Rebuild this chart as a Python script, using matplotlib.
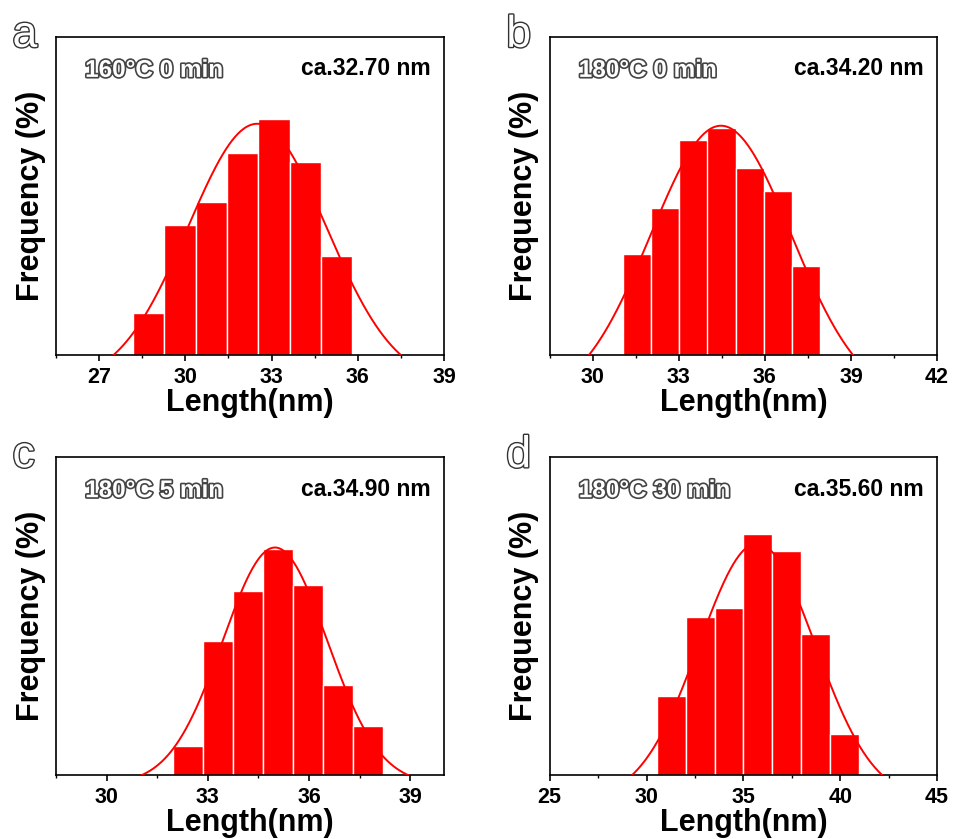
"""Length distributions (four panels) with Gaussian fits."""
import numpy as np
import matplotlib
matplotlib.use("Agg")
import matplotlib.pyplot as plt
import matplotlib.patheffects as pe

plt.rcParams["font.family"] = ["Liberation Sans", "DejaVu Sans"]

# bar centres (nm) and heights (%)
centers_a = [28.72, 29.81, 30.90, 31.99, 33.08, 34.17, 35.26]
heights_a = [4.0, 12.3, 14.5, 19.2, 22.4, 18.3, 9.4]
centers_b = [31.54, 32.52, 33.51, 34.49, 35.47, 36.46, 37.44]
heights_b = [8.9, 13.0, 19.0, 20.1, 16.5, 14.5, 7.9]
centers_c = [32.40, 33.29, 34.18, 35.07, 35.96, 36.85, 37.74]
heights_c = [3.2, 14.9, 20.4, 25.1, 21.1, 10.0, 5.4]
centers_d = [31.28, 32.77, 34.26, 35.75, 37.23, 38.72, 40.21]
heights_d = [7.5, 15.0, 15.9, 22.9, 21.3, 13.4, 3.9]
widths = [1.09, 0.983, 0.89, 1.487]

# Gaussian fit parameters: y0 + A*exp(-(x-xc)^2 / (2 w^2))
fit_xc = [32.5, 34.47, 34.99, 35.71]
fit_w = [2.4, 2.45, 1.55, 3.0]
fit_A = [24.8, 24.46, 26.32, 24.44]
fit_y0 = [-2.84, -4.20, -1.04, -2.42]

letters = ["a", "b", "c", "d"]
conditions = ["160°C 0 min", "180°C 0 min", "180°C 5 min", "180°C 30 min"]
means = ["ca.32.70 nm", "ca.34.20 nm", "ca.34.90 nm", "ca.35.60 nm"]
xlims = [(25.5, 39), (28.5, 42), (28.5, 40), (25, 45)]
xticks = [[27, 30, 33, 36, 39], [30, 33, 36, 39, 42], [30, 33, 36, 39], [25, 30, 35, 40, 45]]
minor_step = [1.5, 1.5, 1.5, 2.5]
ymax = [30.2, 28.1, 35.3, 30.2]

centers = [centers_a, centers_b, centers_c, centers_d]
heights = [heights_a, heights_b, heights_c, heights_d]

fig = plt.figure(figsize=(9.54, 8.39), dpi=100)
boxes = [[0.0587, 0.5769, 0.4067, 0.379], [0.5762, 0.5769, 0.406, 0.379],
         [0.0587, 0.0763, 0.4067, 0.3786], [0.5762, 0.0763, 0.406, 0.3786]]

for i in range(4):
    ax = fig.add_axes(boxes[i])
    ax.bar(centers[i], heights[i], width=widths[i], color="#ff0000",
           edgecolor="white", linewidth=1.0, zorder=2)
    xs = np.linspace(xlims[i][0], xlims[i][1], 400)
    ys = fit_y0[i] + fit_A[i] * np.exp(-(xs - fit_xc[i]) ** 2 / (2 * fit_w[i] ** 2))
    ax.plot(xs, ys, color="#ff0000", linewidth=1.4, zorder=3)

    ax.set_xlim(*xlims[i])
    ax.set_ylim(0, ymax[i])
    ax.set_xticks(xticks[i])
    ax.set_xticks(np.arange(xlims[i][0], xlims[i][1] + 0.01, minor_step[i]), minor=True)
    ax.set_yticks([])
    ax.tick_params(axis="x", which="major", direction="out", length=4, width=1.2,
                   pad=4.5, labelsize=15.5)
    ax.tick_params(axis="x", which="minor", direction="out", length=2.3, width=1.0)
    for lab in ax.get_xticklabels():
        lab.set_fontweight("bold")
    for sp in ax.spines.values():
        sp.set_linewidth(1.2)

    ax.set_xlabel("Length(nm)", fontsize=22, fontweight="bold")
    ax.set_ylabel("Frequency (%)", fontsize=22, fontweight="bold")
    ax.xaxis.set_label_coords(0.5, -0.104)
    ax.yaxis.set_label_coords(-0.027, 0.5)

    ax.text(0.075, 0.895, conditions[i], transform=ax.transAxes, fontsize=17.5,
            fontweight="bold", color="white", ha="left", va="center",
            path_effects=[pe.Stroke(linewidth=2.4, foreground="#444444"), pe.Normal()])
    ax.text(0.965, 0.9, means[i], transform=ax.transAxes, fontsize=16.5,
            fontweight="bold", color="black", ha="right", va="center")
    ax.text(-0.112, 0.969, letters[i], transform=ax.transAxes, fontsize=32,
            color="white", ha="left", va="baseline",
            path_effects=[pe.Stroke(linewidth=2.0, foreground="#333333"), pe.Normal()])

fig.savefig("out.png", dpi=100)
